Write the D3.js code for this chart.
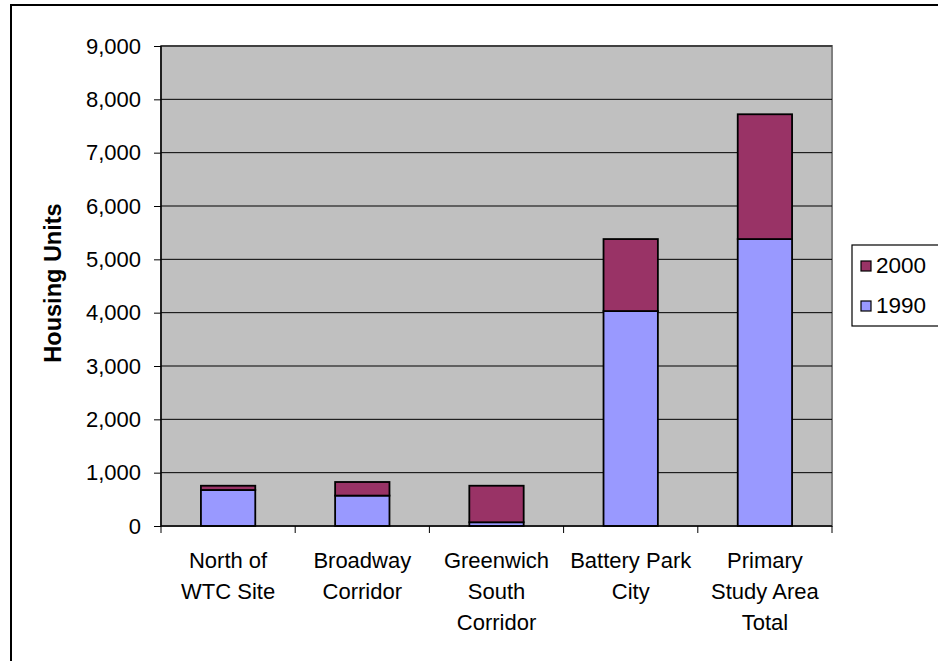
<!DOCTYPE html>
<html><head><meta charset="utf-8">
<script src="https://cdn.jsdelivr.net/npm/d3@7"></script>
<style>body{margin:0;background:#fff}svg{display:block;font-family:"Liberation Sans",Arial,sans-serif}</style>
</head><body>
<svg id="c" width="938" height="661"></svg>
<script>
const categories = [["North of","WTC Site"],["Broadway","Corridor"],["Greenwich","South","Corridor"],["Battery Park","City"],["Primary","Study Area","Total"]];
const values1990 = [675, 570, 70, 4030, 5380];
const values2000 = [80, 255, 685, 1350, 2340];
const seriesNames = ["1990","2000"];
const yTicks = [0,1000,2000,3000,4000,5000,6000,7000,8000,9000];

const svg = d3.select("#c");
const m = {l:161, t:46, r:832, b:526};
const W = m.r - m.l, H = m.b - m.t;

// outer frame
svg.append("rect").attr("x",11).attr("y",5).attr("width",1000).attr("height",1000)
  .attr("fill","#fff").attr("stroke","#000").attr("stroke-width",2);

const x = d3.scaleBand().domain(d3.range(categories.length)).range([m.l,m.r]).padding(0);
const y = d3.scaleLinear().domain([0,9000]).range([m.b,m.t]);

// plot bg
svg.append("rect").attr("x",m.l).attr("y",m.t).attr("width",W).attr("height",H)
  .attr("fill","#C0C0C0").attr("stroke","#808080").attr("stroke-width",2);

// gridlines
svg.append("g").selectAll("line").data(yTicks.filter(d=>d>0)).join("line")
  .attr("x1",m.l).attr("x2",m.r).attr("y1",d=>y(d)).attr("y2",d=>y(d))
  .attr("stroke","#000").attr("stroke-width",1);

// stacked bars
const rows = categories.map((c,i)=>({i, "1990":values1990[i], "2000":values2000[i]}));
const stack = d3.stack().keys(seriesNames)(rows);
const colors = {"1990":"#9999FF","2000":"#993366"};
const bw = x.bandwidth()*0.405;
stack.forEach(s=>{
  svg.append("g").selectAll("rect").data(s).join("rect")
    .attr("x",d=>x(d.data.i)+x.bandwidth()/2-bw/2)
    .attr("width",bw)
    .attr("y",d=>y(d[1]))
    .attr("height",d=>y(d[0])-y(d[1]))
    .attr("fill",colors[s.key]).attr("stroke","#000").attr("stroke-width",1.8);
});

// y axis
const yAxis = d3.axisLeft(y).tickValues(yTicks).tickSize(7).tickPadding(13).tickFormat(d3.format(","));
const ga = svg.append("g").attr("transform",`translate(${m.l},0)`).call(yAxis);
ga.select(".domain").attr("stroke","#000").attr("stroke-width",1.5).attr("d",`M0,${m.t}V${m.b}`);
ga.selectAll(".tick line").attr("stroke","#000");
ga.selectAll("text").attr("font-size",22).attr("fill","#000").attr("font-family","Liberation Sans, Arial, sans-serif");

// x axis
const gx = svg.append("g");
gx.append("line").attr("x1",m.l).attr("x2",m.r).attr("y1",m.b).attr("y2",m.b).attr("stroke","#000").attr("stroke-width",1.5);
const bounds = d3.range(categories.length+1).map(i=> i<categories.length? x(i) : m.r);
gx.selectAll(".xt").data(bounds).join("line").attr("class","xt")
  .attr("x1",d=>d).attr("x2",d=>d).attr("y1",m.b).attr("y2",m.b+7).attr("stroke","#000");
categories.forEach((lines,i)=>{
  const t = gx.append("text").attr("text-anchor","middle").attr("font-size",22).attr("fill","#000");
  lines.forEach((ln,j)=>{
    t.append("tspan").attr("x",x(i)+x.bandwidth()/2).attr("y",568+j*31).text(ln);
  });
});

// y title
svg.append("text").attr("transform","translate(61,283) rotate(-90)").attr("text-anchor","middle")
  .attr("font-size",23.5).attr("font-weight","bold").attr("fill","#000").text("Housing Units");

// legend
const lg = svg.append("g");
lg.append("rect").attr("x",852).attr("y",245).attr("width",120).attr("height",81)
  .attr("fill","#fff").attr("stroke","#000").attr("stroke-width",1.2);
const legendItems = ["2000","1990"];
legendItems.forEach((k,j)=>{
  lg.append("rect").attr("x",861).attr("y",261).attr("width",10).attr("height",10)
    .attr("transform",`translate(0,${j*40})`)
    .attr("fill",colors[k]).attr("stroke","#000").attr("stroke-width",1.2);
  lg.append("text").attr("x",876).attr("y",273+j*40).attr("font-size",22.5).attr("fill","#000").text(k);
});
</script>
</body></html>
